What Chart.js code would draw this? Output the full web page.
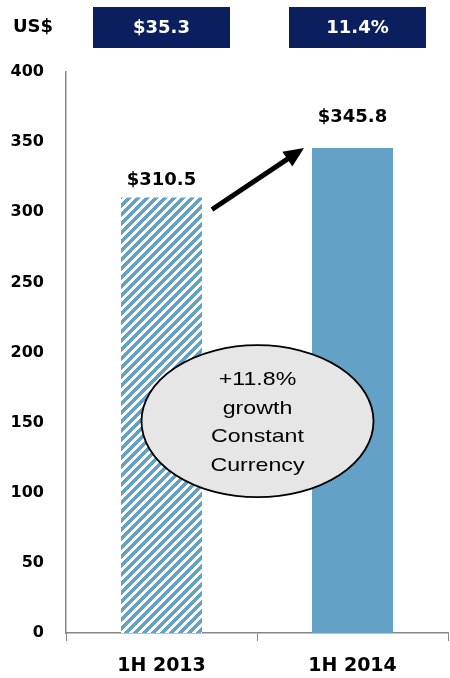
<!DOCTYPE html>
<html>
<head>
<meta charset="utf-8">
<script src="https://cdn.jsdelivr.net/npm/chart.js@4/dist/chart.umd.min.js"></script>
<style>
  html, body { margin: 0; padding: 0; background: #fff; }
  #wrap { width: 450px; height: 678px; position: relative; }
</style>
</head>
<body>
<div id="wrap"><canvas id="chart" width="450" height="678"></canvas></div>
<script>
const periods = ['1H 2013', '1H 2014'];
const sales = [310.5, 345.8];
const valueLabels = ['$310.5', '$345.8'];
const headerBoxes = ['$35.3', '11.4%'];
const bubbleLines = ['+11.8%', 'growth', 'Constant', 'Currency'];
const yTicks = [0, 50, 100, 150, 200, 250, 300, 350, 400];

const BLUE = '#63a2c6';
const NAVY = '#0b1f5e';
const BOLD = '"DejaVu Sans", sans-serif';

// pixel-stepped diagonal stripes, white and blue
function stripePattern() {
  const n = 9;
  const c = document.createElement('canvas');
  c.width = n; c.height = n;
  const g = c.getContext('2d');
  g.fillStyle = '#fff';
  g.fillRect(0, 0, n, n);
  g.fillStyle = BLUE;
  for (let px = 0; px < n; px++) {
    for (let py = 0; py < n; py++) {
      if ((px + py) % n < 5) g.fillRect(px, py, 1, 1);
    }
  }
  return g.createPattern(c, 'repeat');
}

const ctx = document.getElementById('chart').getContext('2d');

const extras = {
  id: 'extras',
  afterDatasetsDraw(chart) {
    const c = chart.ctx;
    const meta = chart.getDatasetMeta(0);
    const b0 = meta.data[0], b1 = meta.data[1];
    const y = chart.scales.y;

    c.save();
    // value labels above bars (second one lifted to clear the arrow)
    const lift = [17, 31];
    c.fillStyle = '#000';
    c.font = 'bold 18px ' + BOLD;
    c.textAlign = 'center';
    c.textBaseline = 'middle';
    meta.data.forEach((bar, i) => {
      c.fillText(valueLabels[i], bar.x, bar.y - lift[i]);
    });

    // unit label
    c.textAlign = 'left';
    c.font = 'bold 18px ' + BOLD;
    c.fillText('US$', 13, 27);

    // header boxes
    const boxX = [b0.x, b1.x + 5];
    headerBoxes.forEach((txt, i) => {
      const w = 137, h = 41;
      c.fillStyle = NAVY;
      c.fillRect(boxX[i] - w / 2, 7, w, h);
      c.fillStyle = '#fff';
      c.font = 'bold 18px ' + BOLD;
      c.textAlign = 'center';
      c.fillText(txt, boxX[i], 28);
    });

    // growth arrow from bar 1 top toward bar 2
    const x1 = b0.x + b0.width / 2 + 10, y1 = b0.y + 12;
    const x2 = b1.x - b1.width / 2 - 8, y2 = b1.y;
    const ang = Math.atan2(y2 - y1, x2 - x1);
    const head = 20;
    c.strokeStyle = '#000';
    c.lineWidth = 5;
    c.beginPath();
    c.moveTo(x1, y1);
    c.lineTo(x2 - Math.cos(ang) * head * 0.8, y2 - Math.sin(ang) * head * 0.8);
    c.stroke();
    c.fillStyle = '#000';
    c.beginPath();
    c.moveTo(x2, y2);
    c.lineTo(x2 - head * Math.cos(ang) + 9 * Math.sin(ang), y2 - head * Math.sin(ang) - 9 * Math.cos(ang));
    c.lineTo(x2 - head * Math.cos(ang) - 9 * Math.sin(ang), y2 - head * Math.sin(ang) + 9 * Math.cos(ang));
    c.closePath();
    c.fill();

    // callout ellipse between the bars
    const cx = (b0.x + b1.x) / 2 + 0.5;
    const cy = y.getPixelForValue(151);
    c.beginPath();
    c.ellipse(cx, cy, 116, 76, 0, 0, Math.PI * 2);
    c.fillStyle = '#e6e6e6';
    c.fill();
    c.lineWidth = 1.8;
    c.strokeStyle = '#000';
    c.stroke();

    // callout text, widened a little
    c.fillStyle = '#000';
    c.font = '19px "Liberation Sans", Arial, sans-serif';
    c.textAlign = 'center';
    c.textBaseline = 'middle';
    bubbleLines.forEach((line, i) => {
      c.save();
      c.translate(cx, cy - 41 + i * 28.5);
      c.scale(1.22, 1);
      c.fillText(line, 0, 0);
      c.restore();
    });
    c.restore();
  }
};

new Chart(ctx, {
  type: 'bar',
  data: {
    labels: periods,
    datasets: [{
      data: sales,
      backgroundColor: [stripePattern(), BLUE],
      borderWidth: 0,
      categoryPercentage: 1,
      barPercentage: 0.424
    }]
  },
  options: {
    responsive: false,
    animation: false,
    layout: { padding: { top: 72, right: 2, left: 0, bottom: 0 } },
    plugins: { legend: { display: false }, tooltip: { enabled: false } },
    scales: {
      x: {
        offset: true,
        grid: {
          display: true,
          offset: true,
          drawOnChartArea: false,
          drawTicks: true,
          tickLength: 8,
          color: '#868686'
        },
        border: { color: '#868686', width: 1.5 },
        ticks: {
          color: '#000',
          font: { family: BOLD, weight: 'bold', size: 19 },
          padding: 14
        },
        afterFit(s) { s.height = 45; }
      },
      y: {
        min: 0,
        max: 400,
        afterBuildTicks(s) { s.ticks = yTicks.map(v => ({ value: v })); },
        grid: { display: false, drawTicks: false },
        border: { color: '#868686', width: 1.5 },
        ticks: {
          color: '#000',
          font: { family: BOLD, weight: 'bold', size: 16 },
          padding: 22
        },
        afterFit(s) { s.width = 66; }
      }
    }
  },
  plugins: [extras]
});
</script>
</body>
</html>
